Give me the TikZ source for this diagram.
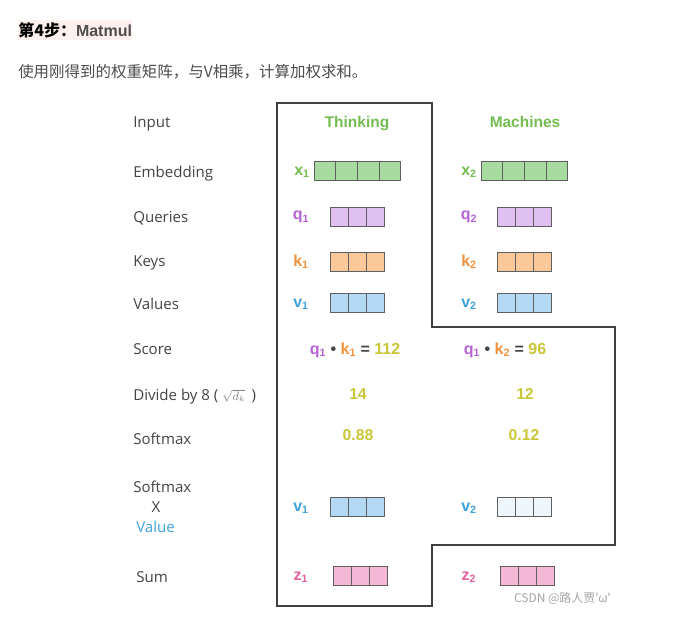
\documentclass[tikz,border=0pt]{standalone}
\usepackage{fontspec}
\setmainfont{Open Sans}
\newfontfamily\hfont{Liberation Sans}
\newfontfamily\cjk{Noto Sans CJK SC}
\usepackage{tikz}
\usetikzlibrary{positioning, calc}
\definecolor{cGreen}{RGB}{115,189,80}
\definecolor{cGreenF}{RGB}{168,219,160}
\definecolor{cPurple}{RGB}{180,99,212}
\definecolor{cPurpleF}{RGB}{224,192,240}
\definecolor{cOrange}{RGB}{240,146,61}
\definecolor{cOrangeF}{RGB}{251,200,154}
\definecolor{cBlue}{RGB}{62,163,220}
\definecolor{cBlueF}{RGB}{179,217,245}
\definecolor{cFaint}{RGB}{238,245,251}
\definecolor{cPink}{RGB}{226,97,159}
\definecolor{cPinkF}{RGB}{244,184,214}
\definecolor{cYellow}{RGB}{201,198,56}
\definecolor{cText}{RGB}{77,77,77}
\definecolor{cRow}{RGB}{68,68,68}
\definecolor{cEdge}{RGB}{95,95,95}
\definecolor{cTitleBg}{RGB}{253,240,238}
\tikzset{
	rowlabel/.style ={anchor=base west, inner sep=0pt, text=cRow, font=\fontsize{11.3}{13}\selectfont},
	word/.style     ={anchor=base, inner sep=0pt, text=cGreen, font=\hfont\bfseries\fontsize{11.6}{13}\selectfont},
	veclabel/.style ={inner sep=0pt, font=\hfont\bfseries\fontsize{12}{14}\selectfont},
	num/.style      ={inner sep=0pt, text=cYellow, font=\hfont\bfseries\fontsize{11.8}{14}\selectfont},
	cell/.style     ={rectangle, draw=cEdge, line width=0.75pt, minimum height=19*0.75pt, inner sep=0pt, outer sep=0pt},
	frame/.style    ={draw=black!75, line width=0.9pt},
}
% a vector as a row of cells: name, left x, centre y, cells, cell width (px), fill
\newcommand{\cellrow}[6]{%
	\foreach \i in {1,...,#4}
		\node[cell, minimum width=#5*0.75pt, fill=#6] (#1-\i) at ({#2+(\i-0.5)*#5},#3) {};
}

\begin{document}
\begin{tikzpicture}[x=0.75pt, y=-0.75pt]
	\useasboundingbox[fill=white] (0,0) rectangle (694,621);
	% heading
	\node[anchor=west, fill=cTitleBg, inner xsep=0pt, inner ysep=2pt, font=\fontsize{12}{14}\selectfont] (title) at (18,30)
		{\cjk\bfseries 第4步：\textcolor{cText}{\hfont Matmul}};
	\node[anchor=west, inner sep=0pt, text=cText, font=\cjk\fontsize{11.6}{14}\selectfont] (intro) at (18,72)
		{使用刚得到的权重矩阵，与V相乘，计算加权求和。};
	% step outline
	\draw[frame] (277,103) -- (432,103) -- (432,327) -- (615,327) -- (615,545) -- (432,545) -- (432,606) -- (277,606) -- cycle;
	% row labels
	\node[rowlabel] (rInput) at (133,127) {Input};
	\node[rowlabel] (rEmbed) at (133,177) {Embedding};
	\node[rowlabel] (rQuery) at (133,222) {Queries};
	\node[rowlabel] (rKey) at (133,266) {Keys};
	\node[rowlabel] (rValue) at (133,309) {Values};
	\node[rowlabel] (rScore) at (133,354) {Score};
	\node[rowlabel] (rDivide) at (133,400) {Divide by 8 ( \textcolor{gray}{\small$\sqrt{d_k}$}\, )};
	\node[rowlabel] (rSoft) at (133,444) {Softmax};
	\node[rowlabel] (rSoftB) at (133,492) {Softmax};
	\node[rowlabel, anchor=base] (rTimes) at (156,512) {X};
	\node[rowlabel, text=cBlue] (rVal) at (136,532) {Value};
	\node[rowlabel] (rSum) at (136,582) {Sum};
	% words
	\node[word] (wThink) at (357,127.5) {Thinking};
	\node[word] (wMach) at (525,127.5) {Machines};
	% first word
	\cellrow{e1}{314}{171}{4}{21.7}{cGreenF}
	\cellrow{q1}{330}{216.5}{3}{18.2}{cPurpleF}
	\cellrow{k1}{330}{262}{3}{18.2}{cOrangeF}
	\cellrow{v1}{330}{302.7}{3}{18.2}{cBlueF}
	\cellrow{w1}{330}{507}{3}{18.2}{cBlueF}
	\cellrow{z1}{333.3}{576}{3}{18.2}{cPinkF}
	\node[veclabel, text=cGreen] (lx1) at (302,172) {x\textsubscript{1}};
	\node[veclabel, text=cPurple] (lq1) at (301,217) {q\textsubscript{1}};
	\node[veclabel, text=cOrange] (lk1) at (301,262) {k\textsubscript{1}};
	\node[veclabel, text=cBlue] (lv1) at (301,304) {v\textsubscript{1}};
	\node[veclabel, text=cBlue] (lw1) at (301,508) {v\textsubscript{1}};
	\node[veclabel, text=cPink] (lz1) at (301,577) {z\textsubscript{1}};
	% second word
	\cellrow{e2}{481}{171}{4}{21.7}{cGreenF}
	\cellrow{q2}{497.3}{216.5}{3}{18.2}{cPurpleF}
	\cellrow{k2}{497.3}{262}{3}{18.2}{cOrangeF}
	\cellrow{v2}{497.3}{302.7}{3}{18.2}{cBlueF}
	\begin{scope}[every node/.append style={draw=cBlueF!40}]
		\cellrow{w2}{497.3}{507}{3}{18.2}{cFaint}
	\end{scope}
	\cellrow{z2}{500.3}{576}{3}{18.2}{cPinkF}
	\node[veclabel, text=cGreen] (lx2) at (469,172) {x\textsubscript{2}};
	\node[veclabel, text=cPurple] (lq2) at (469,217) {q\textsubscript{2}};
	\node[veclabel, text=cOrange] (lk2) at (469,262) {k\textsubscript{2}};
	\node[veclabel, text=cBlue] (lv2) at (469,304) {v\textsubscript{2}};
	\node[veclabel, text=cBlue] (lw2) at (469,508) {v\textsubscript{2}};
	\node[veclabel, text=cPink] (lz2) at (469,577) {z\textsubscript{2}};
	% scores
	\node[veclabel] (s1) at (355,350) {\textcolor{cPurple}{q\textsubscript{1}} \textcolor{cRow}{•} \textcolor{cOrange}{k\textsubscript{1}} \textcolor{cRow}{=} \textcolor{cYellow}{112}};
	\node[veclabel] (s2) at (505,350) {\textcolor{cPurple}{q\textsubscript{1}} \textcolor{cRow}{•} \textcolor{cOrange}{k\textsubscript{2}} \textcolor{cRow}{=} \textcolor{cYellow}{96}};
	\node[num] (d1) at (358,394) {14};
	\node[num] (d2) at (525,394) {12};
	\node[num] (p1) at (358,435) {0.88};
	\node[num] (p2) at (524,435) {0.12};
	% watermark
	\node[anchor=east, inner sep=0pt, text=black!35, font=\cjk\fontsize{9}{11}\selectfont] (mark) at (611,598) {CSDN @路人贾'ω'};
\end{tikzpicture}
\end{document}
